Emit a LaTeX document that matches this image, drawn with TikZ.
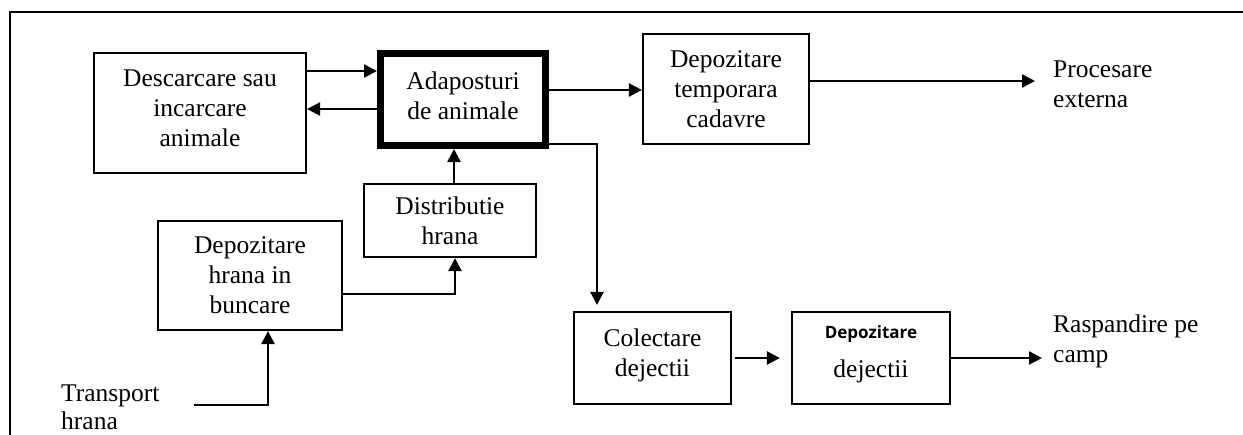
\documentclass[tikz,border=0pt]{standalone}
\usepackage{fontspec}
\setmainfont{Liberation Serif}
\newfontfamily\depfont{Open Sans}
\usetikzlibrary{arrows.meta}
\tikzset{
  every node/.style={font=\fontsize{25.5}{30}\selectfont},
  box/.style={draw, line width=2.2pt, align=center, inner sep=0pt},
  mainbox/.style={box, line width=7pt},
  free/.style={align=left, inner sep=0pt, anchor=north west},
  lift/.style={execute at end node={\rule[-#1]{0pt}{#1}}},
  arr/.style={line width=2.5pt, -{Triangle[length=13pt,width=13pt]}},
  plain/.style={line width=2pt}
}
\begin{document}
\begin{tikzpicture}[x=1pt,y=-1pt]
\useasboundingbox (0,0) rectangle (1243,434);
% frame
\draw[plain] (9.5,440) -- (9.5,11.5) -- (1250,11.5);
% boxes
\node[box, minimum width=212pt, minimum height=120pt, lift=9pt] (desc) at (200,113) {Descarcare sau\\incarcare\\animale};
\node[mainbox, minimum width=165pt, minimum height=92pt, lift=8pt] (adap) at (463,99.5) {Adaposturi\\de animale};
\node[box, minimum width=166pt, minimum height=110pt] (deptemp) at (726,89) {Depozitare\\temporara\\cadavre};
\node[box, minimum width=172pt, minimum height=73pt] (dist) at (450,220.5) {Distributie\\hrana};
\node[box, minimum width=184pt, minimum height=109pt] (dephr) at (250,275.5) {Depozitare\\hrana in\\buncare};
\node[box, minimum width=157pt, minimum height=92pt, lift=11.6pt] (colect) at (652.5,358) {Colectare\\dejectii};
\node[box, minimum width=158pt, minimum height=92pt, lift=13pt] (depdej) at (871,358) {{\depfont\bfseries\fontsize{17}{20}\selectfont Depozitare}\\[8.4pt]dejectii};
% free texts
\node[free] (proc) at (1053,61) {Procesare\\externa};
\node[free] (rasp) at (1053,315) {Raspandire pe\\camp};
\node[free] (transp) at (61,385) {Transport\\[-2pt]hrana};
% helper coordinates
\coordinate (r1) at (0,71);
\coordinate (r2) at (0,109);
\coordinate (r3) at (0,90);
\coordinate (r4) at (0,81);
\coordinate (k1) at (0,144);
\coordinate (k3) at (0,294);
\coordinate (procin) at (1035,81);
\coordinate (raspin) at (1042,358);
\coordinate (tr) at (194,405);
% connectors
\draw[arr] (desc.east |- r1) -- (adap.west |- r1);
\draw[arr] (adap.west |- r2) -- (desc.east |- r2);
\draw[arr] (adap.east |- r3) -- (deptemp.west |- r3);
\draw[arr] (deptemp.east |- r4) -- (procin);
\draw[arr] (adap.east |- k1) -| ([xshift=-55.5pt,yshift=6pt]colect.north);
\draw[arr] ([xshift=4pt]dist.north) -- ([xshift=4pt]dist.north |- adap.south);
\draw[arr] (dephr.east |- k3) -| ([xshift=5pt]dist.south);
\draw[arr] (tr) -| ([xshift=18pt]dephr.south);
\draw[arr, shorten <=3pt, shorten >=11pt] (colect.east) -- (depdej.west);
\draw[arr] (depdej.east) -- (raspin);
\end{tikzpicture}
\end{document}
